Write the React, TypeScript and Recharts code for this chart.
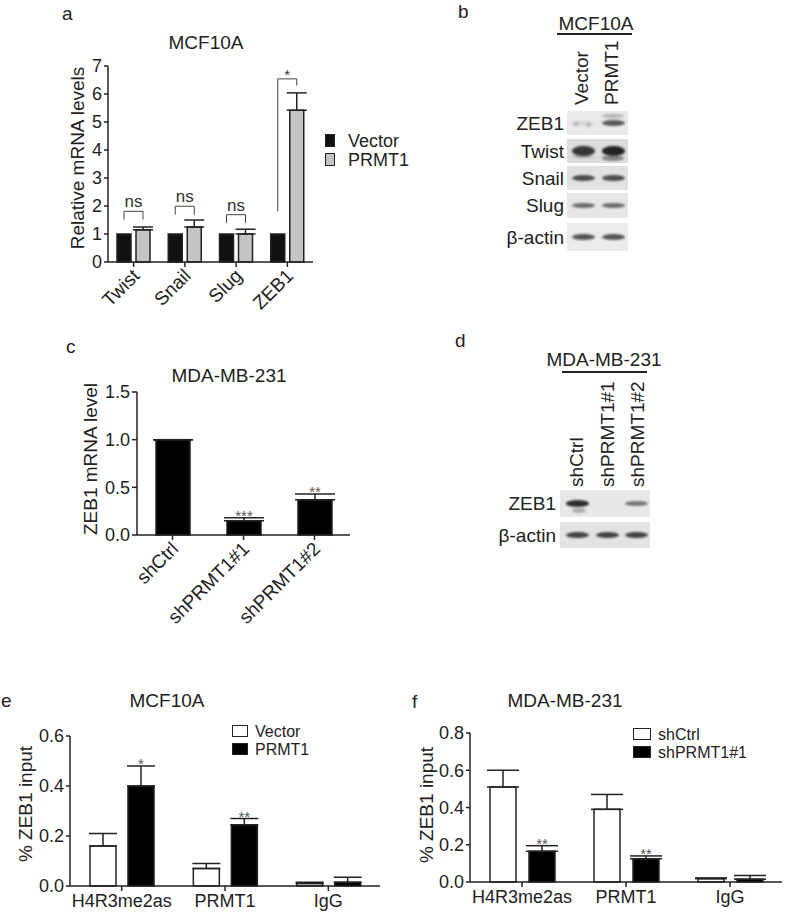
import React from 'react';
import { BarChart, Bar, XAxis, YAxis, ErrorBar, Legend } from 'recharts';

const FONT = '"Liberation Sans", Arial, sans-serif';
const INK = '#222';

// a: MCF10A qPCR
const aGenes = ['Twist', 'Snail', 'Slug', 'ZEB1'];
const aVector = [1, 1, 1, 1];
const aPrmt1 = [1.15, 1.25, 1.0, 5.42];
const aPrmt1Sem = [0.1, 0.25, 0.17, 0.62];
const aSig = ['ns', 'ns', 'ns', '*'];
const aBracketTop = [1.81, 1.99, 1.69, 6.54];
const aLeftLegEnd = [1.51, 1.69, 1.39, 1.81];
const aRightLegEnd = [1.51, 1.69, 1.39, 6.3];
const aTicks = [0, 1, 2, 3, 4, 5, 6, 7];

// c: MDA-MB-231 qPCR
const cGroups = ['shCtrl', 'shPRMT1#1', 'shPRMT1#2'];
const cValues = [1.0, 0.15, 0.37];
const cSem = [0, 0.03, 0.06];
const cStars = ['', '***', '**'];
const cTicks = [0, 0.5, 1.0, 1.5];

// e: MCF10A ChIP
const chipTargets = ['H4R3me2as', 'PRMT1', 'IgG'];
const eVector = [0.16, 0.07, 0.01];
const eVectorSem = [0.05, 0.02, 0.005];
const ePrmt1 = [0.4, 0.245, 0.015];
const ePrmt1Sem = [0.08, 0.025, 0.02];
const eStars = ['*', '**', ''];
const eTicks = [0, 0.2, 0.4, 0.6];

// f: MDA-MB-231 ChIP
const fShCtrl = [0.51, 0.39, 0.018];
const fShCtrlSem = [0.09, 0.08, 0.004];
const fShPrmt1 = [0.165, 0.125, 0.015];
const fShPrmt1Sem = [0.03, 0.015, 0.02];
const fStars = ['**', '**', ''];
const fTicks = [0, 0.2, 0.4, 0.6, 0.8];

// western blots (band darkness 0..1)
const bRows = ['ZEB1', 'Twist', 'Snail', 'Slug', 'β-actin'];
const bLanes = ['Vector', 'PRMT1'];
const bBands = [
  [0.08, 0.7],
  [0.85, 0.95],
  [0.75, 0.75],
  [0.6, 0.6],
  [0.72, 0.72],
];
const dRows = ['ZEB1', 'β-actin'];
const dLanes = ['shCtrl', 'shPRMT1#1', 'shPRMT1#2'];
const dBands = [
  [0.9, 0, 0.55],
  [0.8, 0.8, 0.8],
];

const aData = aGenes.map((gene, i) => ({
  gene,
  vector: aVector[i],
  prmt1: aPrmt1[i],
  prmt1Err: [0, aPrmt1Sem[i]],
  sig: aSig[i],
  bracketTop: aBracketTop[i],
  leftEnd: aLeftLegEnd[i],
  rightEnd: aRightLegEnd[i],
}));

const cData = cGroups.map((group, i) => ({
  group,
  value: cValues[i],
  err: [0, cSem[i]],
  sem: cSem[i],
  star: cStars[i],
}));

const eData = chipTargets.map((target, i) => ({
  target,
  vector: eVector[i],
  vectorErr: [0, eVectorSem[i]],
  prmt1: ePrmt1[i],
  prmt1Err: [0, ePrmt1Sem[i]],
  sem: ePrmt1Sem[i],
  star: eStars[i],
}));

const fData = chipTargets.map((target, i) => ({
  target,
  ctrl: fShCtrl[i],
  ctrlErr: [0, fShCtrlSem[i]],
  sh1: fShPrmt1[i],
  sh1Err: [0, fShPrmt1Sem[i]],
  sem: fShPrmt1Sem[i],
  star: fStars[i],
}));

const Txt = ({ x, y, size = 18, anchor = 'start', children }: any) => (
  <div
    style={{
      position: 'absolute',
      left: x,
      top: y - 0.8465 * size,
      fontSize: size,
      lineHeight: `${size}px`,
      whiteSpace: 'nowrap',
      color: INK,
      fontFamily: FONT,
      transform: anchor === 'middle' ? 'translateX(-50%)' : anchor === 'end' ? 'translateX(-100%)' : undefined,
    }}
  >
    {children}
  </div>
);

// rotated title, centred on (cx, cy)
const VText = ({ cx, cy, size = 19, children }: any) => (
  <div
    style={{
      position: 'absolute',
      left: cx,
      top: cy,
      fontSize: size,
      lineHeight: `${size}px`,
      whiteSpace: 'nowrap',
      color: INK,
      fontFamily: FONT,
      transform: 'translate(-50%, -50%) rotate(-90deg)',
    }}
  >
    {children}
  </div>
);

// lane label reading upwards, starting at (cx, yb)
const ColLabel = ({ cx, yb, size = 19, children }: any) => (
  <div
    style={{
      position: 'absolute',
      left: cx,
      top: yb,
      fontSize: size,
      lineHeight: `${size}px`,
      whiteSpace: 'nowrap',
      color: INK,
      fontFamily: FONT,
      transformOrigin: '0 0',
      transform: 'rotate(-90deg) translateY(-50%)',
    }}
  >
    {children}
  </div>
);

const axisStyle = { stroke: INK, strokeWidth: 1.5 };
const tickFont = { fill: INK, fontSize: 18, fontFamily: FONT };

const RotTick = ({ x, y, payload }: any) => (
  <text
    x={x + 7}
    y={y + 10}
    textAnchor="end"
    transform={`rotate(-45 ${x + 7} ${y + 10})`}
    fill={INK}
    fontSize={19}
    fontFamily={FONT}
  >
    {payload.value}
  </text>
);

const HTick = ({ x, y, payload }: any) => (
  <text x={x} y={y + 16} textAnchor="middle" fill={INK} fontSize={18} fontFamily={FONT}>
    {payload.value}
  </text>
);

// PRMT1 bar in panel a, with its significance bracket
const A_GAP = 5;
const aPrmt1Shape = (p: any) => {
  const { x, y, width, height, payload } = p;
  const per = height / payload.prmt1;
  const base = y + height;
  const toY = (v: number) => base - v * per;
  const xr = x + width / 2;
  const xl = x - A_GAP - width / 2;
  const top = toY(payload.bracketTop);
  const star = payload.sig === '*';
  return (
    <g>
      <rect x={x} y={y} width={width} height={height} fill="#c4c4c4" stroke={INK} strokeWidth={1.5} />
      <path
        d={`M${xl},${toY(payload.leftEnd)} V${top} H${xr} V${toY(payload.rightEnd)}`}
        fill="none"
        stroke="#444"
        strokeWidth={1}
      />
      <text
        x={(xl + xr) / 2}
        y={star ? top + 1 : top - 4}
        textAnchor="middle"
        fontSize={star ? 15 : 17}
        fill="#333"
        fontFamily={FONT}
      >
        {payload.sig}
      </text>
    </g>
  );
};

// black bar with asterisks above the error bar
const starShape = (valueKey: string, fill: string) => (p: any) => {
  const { x, y, width, height, payload } = p;
  const v = payload[valueKey];
  const per = v ? height / v : 0;
  const errTop = y - payload.sem * per;
  return (
    <g>
      <rect x={x} y={y} width={width} height={height} fill={fill} stroke={INK} strokeWidth={1.5} />
      {payload.star ? (
        <text x={x + width / 2} y={errTop + 3} textAnchor="middle" fontSize={15} fill="#555" fontFamily={FONT}>
          {payload.star}
        </text>
      ) : null}
    </g>
  );
};

const LegendBox = ({ items, sw, sh, gap, space = 7, size = 18 }: any) => (
  <div style={{ fontFamily: FONT, color: INK, fontSize: size }}>
    {items.map((it: any) => (
      <div key={it.label} style={{ display: 'flex', alignItems: 'center', height: gap, whiteSpace: 'nowrap' }}>
        <span
          style={{
            display: 'inline-block',
            width: sw,
            height: sh,
            background: it.fill,
            border: `1.5px solid ${INK}`,
            boxSizing: 'border-box',
            marginRight: space,
          }}
        />
        <span style={{ lineHeight: `${gap - 1}px`, height: gap - 1 }}>{it.label}</span>
      </div>
    ))}
  </div>
);

const Band = ({ cx, cy, w, h, k }: any) =>
  k > 0 ? (
    <div
      style={{
        position: 'absolute',
        left: cx - w / 2,
        top: cy - h / 2,
        width: w,
        height: h,
        borderRadius: '50%',
        background: `rgba(25,25,25,${k})`,
        filter: 'blur(1.3px)',
      }}
    />
  ) : null;

const Blot = ({ rows, bands, boxes, left, right, laneX, bandW, bandH, bgs, labelX }: any) => (
  <>
    {rows.map((name: string, r: number) => {
      const [t, b] = boxes[r];
      const cy = (t + b) / 2;
      return (
        <React.Fragment key={name}>
          <div style={{ position: 'absolute', left, top: t, width: right - left, height: b - t, background: bgs[r] }} />
          {bands[r].map((k: number, l: number) => (
            <Band key={l} cx={laneX[l]} cy={cy} w={bandW} h={bandH[r] * (0.8 + 0.3 * k)} k={k} />
          ))}
          <Txt x={labelX} y={cy + 7} size={19} anchor="end">
            {name}
          </Txt>
        </React.Fragment>
      );
    })}
  </>
);

export default function App() {
  return (
    <div style={{ position: 'absolute', left: 0, top: 0, width: 787, height: 915, background: '#fff', overflow: 'hidden' }}>
      {/* panel letters and titles */}
      <Txt x={62} y={20} size={19}>a</Txt>
      <Txt x={458} y={18} size={19}>b</Txt>
      <Txt x={66} y={353} size={19}>c</Txt>
      <Txt x={455} y={347} size={19}>d</Txt>
      <Txt x={1} y={707} size={19}>e</Txt>
      <Txt x={412} y={708} size={19}>f</Txt>

      <Txt x={206} y={49} size={19} anchor="middle">MCF10A</Txt>
      <Txt x={229} y={382} size={19} anchor="middle">MDA-MB-231</Txt>
      <Txt x={167} y={707} size={19} anchor="middle">MCF10A</Txt>
      <Txt x={565} y={707} size={19} anchor="middle">MDA-MB-231</Txt>

      <VText cx={77} cy={158}>Relative mRNA levels</VText>
      <VText cx={90} cy={459}>ZEB1 mRNA level</VText>
      <VText cx={25} cy={804}>% ZEB1 input</VText>
      <VText cx={426} cy={805}>% ZEB1 input</VText>

      {/* a */}
      <div style={{ position: 'absolute', left: 40, top: 50 }}>
        <BarChart width={360} height={290} data={aData} margin={{ top: 16, right: 87, bottom: 8, left: 28 }} barSize={14} barGap={A_GAP}>
          <XAxis dataKey="gene" interval={0} height={70} axisLine={axisStyle} tickLine={axisStyle} tickSize={5} tickMargin={0} tick={<RotTick />} />
          <YAxis width={40} domain={[0, 7]} ticks={aTicks} axisLine={axisStyle} tickLine={axisStyle} tickSize={4} tickMargin={2} tick={tickFont} />
          <Legend
            layout="vertical"
            align="center"
            verticalAlign="middle"
            wrapperStyle={{ left: 285, top: 81, width: 90 }}
            content={() => (
              <LegendBox sw={10} sh={13} gap={19} space={13} items={[{ label: 'Vector', fill: '#111' }, { label: 'PRMT1', fill: '#c4c4c4' }]} />
            )}
          />
          <Bar dataKey="vector" name="Vector" fill="#111" stroke={INK} strokeWidth={1.5} isAnimationActive={false} />
          <Bar dataKey="prmt1" name="PRMT1" fill="#c4c4c4" shape={aPrmt1Shape} isAnimationActive={false}>
            <ErrorBar dataKey="prmt1Err" width={10} stroke={INK} strokeWidth={1.5} direction="y" />
          </Bar>
        </BarChart>
      </div>

      {/* b */}
      <Txt x={596} y={30} size={19} anchor="middle">MCF10A</Txt>
      <div style={{ position: 'absolute', left: 557, top: 33, width: 75, height: 1.5, background: INK }} />
      {bLanes.map((lane, i) => (
        <ColLabel key={lane} cx={[581, 611][i]} yb={105}>
          {lane}
        </ColLabel>
      ))}
      <Blot
        rows={bRows}
        bands={bBands}
        boxes={[[111, 135], [139, 163], [166, 190], [193, 218], [223, 251]]}
        left={567}
        right={628}
        laneX={[583, 613]}
        bandW={23}
        bandH={[6, 9, 6, 5, 6]}
        bgs={['#e9e9e9', '#dcdcdc', '#e1e1e1', '#e6e6e6', '#ebebeb']}
        labelX={564}
      />
      <Band cx={613} cy={116} w={22} h={4} k={0.25} />
      <Band cx={613} cy={158} w={22} h={6} k={0.45} />
      <Band cx={583} cy={156} w={20} h={4} k={0.25} />
      <Band cx={576} cy={124} w={6} h={4} k={0.2} />
      <Band cx={588} cy={125} w={5} h={4} k={0.25} />

      {/* c */}
      <div style={{ position: 'absolute', left: 40, top: 380 }}>
        <BarChart width={340} height={260} data={cData} margin={{ top: 12, right: 30, bottom: 10, left: 57 }} barSize={34}>
          <XAxis dataKey="group" interval={0} height={95} axisLine={axisStyle} tickLine={axisStyle} tickSize={5} tickMargin={0} tick={<RotTick />} />
          <YAxis
            width={40}
            domain={[0, 1.5]}
            ticks={cTicks}
            axisLine={axisStyle}
            tickLine={axisStyle}
            tickSize={5}
            tickMargin={2}
            tick={tickFont}
            tickFormatter={(v: number) => v.toFixed(1)}
          />
          <Bar dataKey="value" fill="#000" shape={starShape('value', '#000')} isAnimationActive={false}>
            <ErrorBar dataKey="err" width={20} stroke={INK} strokeWidth={1.5} direction="y" />
          </Bar>
        </BarChart>
      </div>

      {/* d */}
      <Txt x={604} y={366} size={19} anchor="middle">MDA-MB-231</Txt>
      <div style={{ position: 'absolute', left: 562, top: 371, width: 85, height: 1.5, background: INK }} />
      {dLanes.map((lane, i) => (
        <ColLabel key={lane} cx={[576, 607, 637][i]} yb={487}>
          {lane}
        </ColLabel>
      ))}
      <Blot
        rows={dRows}
        bands={dBands}
        boxes={[[490, 517], [522, 548]]}
        left={560}
        right={650}
        laneX={[577, 607, 636]}
        bandW={23}
        bandH={[6, 6]}
        bgs={['#e8e8e8', '#e3e3e3']}
        labelX={556}
      />
      <Band cx={579} cy={510} w={14} h={5} k={0.3} />

      {/* e */}
      <div style={{ position: 'absolute', left: 0, top: 720 }}>
        <BarChart width={390} height={195} data={eData} margin={{ top: 16, right: 10, bottom: 0, left: 30 }} barSize={26} barGap={12}>
          <XAxis dataKey="target" interval={0} height={29} axisLine={axisStyle} tickLine={axisStyle} tickSize={5} tickMargin={0} tick={<HTick />} />
          <YAxis
            width={40}
            domain={[0, 0.6]}
            ticks={eTicks}
            axisLine={axisStyle}
            tickLine={axisStyle}
            tickSize={4}
            tickMargin={2}
            tick={tickFont}
            tickFormatter={(v: number) => v.toFixed(1)}
          />
          <Legend
            layout="vertical"
            align="center"
            verticalAlign="middle"
            wrapperStyle={{ left: 232, top: 2, width: 140 }}
            content={() => (
              <LegendBox sw={16} sh={12} gap={18} size={16} items={[{ label: 'Vector', fill: '#fff' }, { label: 'PRMT1', fill: '#000' }]} />
            )}
          />
          <Bar dataKey="vector" fill="#fff" stroke={INK} strokeWidth={1.5} isAnimationActive={false}>
            <ErrorBar dataKey="vectorErr" width={14} stroke={INK} strokeWidth={1.5} direction="y" />
          </Bar>
          <Bar dataKey="prmt1" fill="#000" shape={starShape('prmt1', '#000')} isAnimationActive={false}>
            <ErrorBar dataKey="prmt1Err" width={14} stroke={INK} strokeWidth={1.5} direction="y" />
          </Bar>
        </BarChart>
      </div>

      {/* f */}
      <div style={{ position: 'absolute', left: 400, top: 715 }}>
        <BarChart width={387} height={200} data={fData} margin={{ top: 18, right: 5, bottom: 3, left: 30 }} barSize={26} barGap={13}>
          <XAxis dataKey="target" interval={0} height={30} axisLine={axisStyle} tickLine={axisStyle} tickSize={5} tickMargin={0} tick={<HTick />} />
          <YAxis
            width={40}
            domain={[0, 0.8]}
            ticks={fTicks}
            axisLine={axisStyle}
            tickLine={axisStyle}
            tickSize={4}
            tickMargin={2}
            tick={tickFont}
            tickFormatter={(v: number) => v.toFixed(1)}
          />
          <Legend
            layout="vertical"
            align="center"
            verticalAlign="middle"
            wrapperStyle={{ left: 233, top: 10, width: 150 }}
            content={() => (
              <LegendBox sw={18} sh={12} gap={18} size={16} items={[{ label: 'shCtrl', fill: '#fff' }, { label: 'shPRMT1#1', fill: '#000' }]} />
            )}
          />
          <Bar dataKey="ctrl" fill="#fff" stroke={INK} strokeWidth={1.5} isAnimationActive={false}>
            <ErrorBar dataKey="ctrlErr" width={16} stroke={INK} strokeWidth={1.5} direction="y" />
          </Bar>
          <Bar dataKey="sh1" fill="#000" shape={starShape('sh1', '#000')} isAnimationActive={false}>
            <ErrorBar dataKey="sh1Err" width={16} stroke={INK} strokeWidth={1.5} direction="y" />
          </Bar>
        </BarChart>
      </div>
    </div>
  );
}
